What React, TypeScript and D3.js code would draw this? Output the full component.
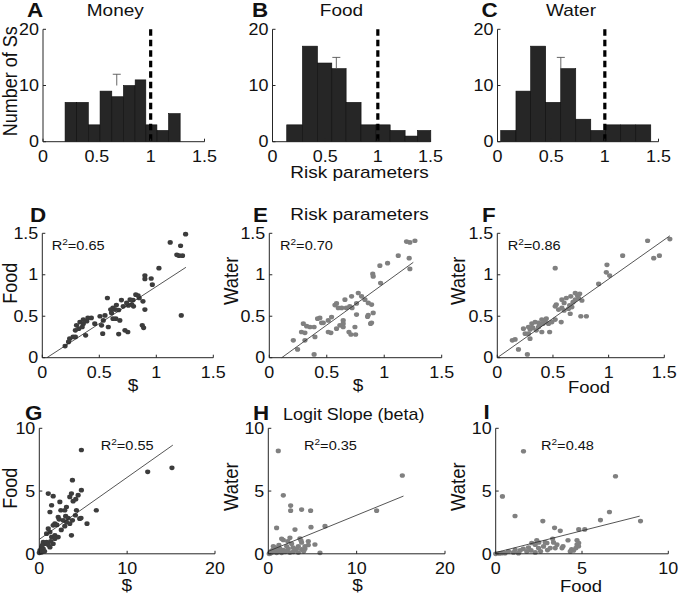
import React from 'react';
import * as d3 from 'd3';

// ---------------- DATA ----------------
// Histograms of risk parameters (bin edges and counts)
const moneyEdges = [0.205, 0.313, 0.421, 0.53, 0.639, 0.747, 0.856, 0.955, 1.058, 1.166, 1.274];
const moneyCounts = [7, 7, 3, 9, 8, 10, 11, 3, 2, 5];
const foodEdges = [0.135, 0.284, 0.427, 0.563, 0.699, 0.841, 0.981, 1.117, 1.259, 1.376, 1.503];
const foodCounts = [3, 17, 14, 13, 7, 3, 3, 2, 1, 2];
const waterEdges = [0.03, 0.172, 0.309, 0.449, 0.589, 0.729, 0.869, 1.008, 1.148, 1.288, 1.428];
const waterCounts = [2, 9, 17, 7, 13, 4, 2, 3, 3, 3];
// error markers [x, top, bottom]
const moneyErr = [0.685, 12, 10];
const foodErr = [0.606, 15, 13];
const waterErr = [0.59, 15, 13];
const histTicksX = [0, 0.5, 1, 1.5];
const histTicksY = [0, 10, 20];
const neutralRisk = 1;

// Scatter: risk parameters
const riskMoneyFood: number[][] = [
  [1.257, 1.49], [1.122, 1.39], [1.213, 1.35], [1.18, 1.24], [1.2, 1.23], [1.23, 1.23], [1.023, 1.08],
  [0.9, 0.99], [0.9, 0.95], [0.955, 0.955], [0.965, 0.88], [1.219, 0.51], [0.571, 0.72], [0.84, 0.75],
  [0.85, 0.72], [0.82, 0.76], [0.796, 0.695], [0.883, 0.68], [0.9, 0.58], [0.877, 0.39], [0.889, 0.36],
  [0.74, 0.66], [0.755, 0.63], [0.77, 0.7], [0.785, 0.64], [0.8, 0.62], [0.694, 0.695], [0.65, 0.635],
  [0.67, 0.575], [0.64, 0.58], [0.62, 0.6], [0.607, 0.54], [0.645, 0.47], [0.68, 0.45], [0.62, 0.47],
  [0.725, 0.33], [0.75, 0.31], [0.67, 0.285], [0.579, 0.37], [0.506, 0.5], [0.535, 0.45], [0.52, 0.39],
  [0.53, 0.29], [0.46, 0.41], [0.55, 0.51], [0.33, 0.43], [0.36, 0.46], [0.39, 0.44], [0.4, 0.48],
  [0.43, 0.48], [0.3, 0.39], [0.32, 0.35], [0.35, 0.37], [0.29, 0.33], [0.29, 0.25], [0.38, 0.27],
  [0.24, 0.23], [0.27, 0.25], [0.23, 0.19], [0.2, 0.14], [0.71, 0.62], [0.6, 0.58], [0.36, 0.41],
];
const riskMoneyWater: number[][] = [
  [1.267, 1.41], [1.223, 1.39], [1.194, 1.4], [1.122, 1.23], [1.217, 1.2], [1.223, 1.07], [1.029, 1.14],
  [0.962, 1.11], [0.9, 1.01], [0.904, 0.98], [0.968, 0.9], [0.774, 0.78], [0.716, 0.74], [0.803, 0.74],
  [0.759, 0.655], [0.658, 0.7], [0.585, 0.655], [0.571, 0.635], [0.6, 0.6], [0.63, 0.6], [0.67, 0.6],
  [0.832, 0.7], [0.861, 0.66], [0.89, 0.64], [0.904, 0.54], [0.861, 0.515], [0.855, 0.495], [0.89, 0.42],
  [0.881, 0.41], [0.759, 0.52], [0.745, 0.37], [0.693, 0.31], [0.71, 0.28], [0.751, 0.28], [0.643, 0.45],
  [0.643, 0.41], [0.614, 0.39], [0.585, 0.35], [0.643, 0.37], [0.513, 0.31], [0.536, 0.3], [0.513, 0.45],
  [0.542, 0.49], [0.455, 0.42], [0.47, 0.42], [0.42, 0.47], [0.44, 0.48], [0.296, 0.41], [0.325, 0.38],
  [0.354, 0.37], [0.39, 0.37], [0.28, 0.31], [0.31, 0.3], [0.397, 0.25], [0.31, 0.21], [0.209, 0.21],
  [0.246, 0.1], [0.39, 0.04], [0.7, 0.62], [0.72, 0.6],
];
const riskFoodWater: number[][] = [
  [1.55, 1.43], [1.35, 1.41], [1.456, 1.23], [1.405, 1.2], [1.126, 1.23], [0.985, 1.12], [0.979, 1.03],
  [1.009, 0.99], [0.91, 0.89], [0.52, 1.08], [0.75, 0.5], [0.8, 0.5], [0.72, 0.75], [0.74, 0.77],
  [0.73, 0.72], [0.76, 0.69], [0.7, 0.7], [0.65, 0.63], [0.68, 0.67], [0.67, 0.61], [0.64, 0.59],
  [0.58, 0.7], [0.6, 0.66], [0.58, 0.6], [0.6, 0.57], [0.655, 0.53], [0.52, 0.62], [0.53, 0.64],
  [0.55, 0.58], [0.574, 0.43], [0.52, 0.46], [0.49, 0.43], [0.46, 0.41], [0.43, 0.43], [0.44, 0.47],
  [0.4, 0.46], [0.41, 0.41], [0.38, 0.39], [0.37, 0.37], [0.37, 0.42], [0.34, 0.43], [0.31, 0.41],
  [0.32, 0.36], [0.35, 0.33], [0.4, 0.31], [0.47, 0.31], [0.28, 0.37], [0.28, 0.29], [0.295, 0.34],
  [0.25, 0.29], [0.235, 0.35], [0.294, 0.23], [0.16, 0.22], [0.135, 0.21], [0.19, 0.1], [0.27, 0.04],
  [0.62, 0.72], [0.66, 0.74], [0.7, 0.78],
];
// Scatter: logit slope (beta)
const betaMoneyFood: number[][] = [
  [4.79, 8.27], [12.34, 6.53], [15.1, 6.85], [3.77, 5.87], [1.02, 4.8], [1.58, 4.59], [3.66, 4.8],
  [3.47, 4.53], [4.79, 5.07], [4.42, 4.67], [4.15, 4.35], [3.85, 4.19], [2.34, 4.13], [1.4, 3.87],
  [1.21, 3.33], [3.09, 3.73], [2.9, 3.47], [2.45, 3.47], [4.23, 3.47], [4.11, 3.07], [6.49, 3.47],
  [5.43, 2.4], [4.6, 2.8], [4.75, 2.85], [2.72, 2.67], [3.09, 2.53], [2.15, 2.93], [2.26, 2.75],
  [1.77, 2.4], [1.58, 2.27], [3.77, 2.67], [3.28, 2.85], [3.47, 2.4], [1.02, 2.0], [1.21, 1.73],
  [0.83, 1.6], [1.4, 1.33], [1.77, 1.47], [2.15, 1.33], [3.66, 1.47], [0.45, 0.93], [0.64, 0.8],
  [0.83, 0.93], [0.26, 0.53], [0.45, 0.4], [0.08, 0.27], [0.26, 0.13], [1.02, 0.73], [1.21, 0.53],
  [1.58, 0.8], [1.77, 1.2], [0, 0.08], [2.9, 2.2], [2.5, 1.9], [0.6, 0.2], [0.35, 0.7], [1.3, 1.0],
  [2.0, 2.3], [3.0, 3.0],
];
const betaMoneyWater: number[][] = [
  [1.13, 8.2], [1.7, 4.66], [15.17, 6.24], [12.26, 3.44], [2.53, 3.84], [2.53, 3.44], [3.77, 3.52],
  [4.79, 3.44], [0.94, 2.06], [3.02, 1.93], [4.83, 2.12], [6.42, 2.2], [2.45, 1.27], [1.51, 1.19],
  [1.7, 1.1], [3.58, 1.22], [3.7, 1.06], [4.53, 1.0], [5.28, 0.74], [5.85, 0.08], [3.4, 0.6], [3.2, 0.4],
  [3.77, 0.35], [2.64, 0.8], [2.08, 0.6], [2.26, 0.4], [1.32, 0.4], [1.13, 0.16], [0.75, 0.16],
  [0.38, 0.08], [0.19, 0.03], [0.57, 0.6], [3.77, 0.9], [4.15, 0.6], [1.89, 0.16], [2.45, 0.1],
  [2.83, 0.16], [3.02, 0.3], [4.15, 0.4], [4.53, 0.7], [0.94, 0.08], [1.51, 0.08], [0.5, 0.3],
  [1.0, 0.4], [2.0, 0.2], [2.8, 0.5], [0.3, 0.2], [1.7, 0.3], [3.4, 0.1], [0.8, 0.5], [4.0, 0.2],
  [0.1, 0.0], [2.2, 1.0], [1.2, 0.7],
];
const betaFoodWater: number[][] = [
  [1.61, 8.17], [0.39, 4.57], [1.12, 3.01], [6.94, 6.18], [6.59, 3.33], [6.07, 2.69], [8.39, 2.61],
  [2.73, 2.61], [3.41, 2.07], [3.74, 1.83], [4.81, 1.94], [5.16, 1.94], [2.38, 1.08], [2.87, 0.91],
  [2.97, 0.86], [3.35, 0.91], [3.55, 0.73], [3.45, 0.46], [4.19, 1.08], [4.71, 1.08], [4.81, 0.86],
  [4.71, 0.73], [3.84, 0.46], [4.32, 0.19], [4.51, 0.27], [2.09, 0.86], [2.29, 0.73], [2.48, 0.46],
  [2.77, 0.59], [3.16, 0.46], [1.8, 0.19], [2.05, 0.27], [2.29, 0.11], [1.42, 0.27], [1.13, 0.32],
  [0.74, 0.19], [0.54, 0.05], [0.35, 0.05], [0.0, 0.0], [1.32, 0.05], [1.03, 0.11], [4.65, 0.46],
  [4.8, 0.6], [1.6, 0.4], [2.6, 0.2], [3.0, 0.3], [3.9, 0.6], [0.2, 0.03], [1.9, 0.5], [2.5, 0.9],
  [3.3, 1.2], [4.4, 0.35],
];
// Regression line endpoints
const fitD = [[0.04, 0], [1.26, 1.09]];
const fitE = [[0.108, 0], [1.253, 1.15]];
const fitF = [[0, 0], [1.55, 1.47]];
const fitG = [[0, 1.15], [15.2, 8.66]];
const fitH = [[0, 0.2], [15.3, 4.6]];
const fitI = [[0, 0.1], [8.34, 3.0]];
const r2Labels = ['0.65', '0.70', '0.86', '0.55', '0.35', '0.48'];
const riskTicks = [0, 0.5, 1, 1.5];
const betaTicksY = [0, 5, 10];
const betaTicksMoney = [0, 10, 20];
const betaTicksFood = [0, 5, 10];

// ---------------- STYLE ----------------
const SX = 1.12;
const FONT = "'Liberation Sans', Arial, Helvetica, sans-serif";
const AXIS = '#262626';
const TXT = '#111';

type TP = { x: number; y: number; size: number; anchor?: string; weight?: number | string; rot?: boolean; children: React.ReactNode };
function Txt({ x, y, size, anchor = 'middle', weight = 400, rot = false, children }: TP) {
  const tr = rot ? `translate(${x},${y}) scale(${SX},1) rotate(-90)` : `translate(${x},${y}) scale(${SX},1)`;
  return (
    <text transform={tr} textAnchor={anchor as any} fontSize={size} fontWeight={weight} fontFamily={FONT} fill={TXT}>
      {children}
    </text>
  );
}

function Axes({ xs, ys, xt, yt, xFmt, yFmt }: any) {
  const [x0, x1] = [xs(xt[0]), xs(xt[xt.length - 1])];
  const [yb, yTop] = [ys(yt[0]), ys(yt[yt.length - 1])];
  return (
    <g>
      <line x1={x0} x2={x1} y1={yb} y2={yb} stroke={AXIS} strokeWidth={1} />
      <line x1={x0} x2={x0} y1={yb} y2={yTop} stroke={AXIS} strokeWidth={1} />
      {xt.map((t: number) => (
        <g key={'x' + t}>
          <line x1={xs(t)} x2={xs(t)} y1={yb} y2={yb - 3} stroke={AXIS} strokeWidth={1} />
          <Txt x={xs(t)} y={yb + 20} size={16}>{xFmt(t)}</Txt>
        </g>
      ))}
      {yt.map((t: number) => (
        <g key={'y' + t}>
          <line x1={x0} x2={x0 + 3} y1={ys(t)} y2={ys(t)} stroke={AXIS} strokeWidth={1} />
          <Txt x={x0 - 4} y={ys(t) + 5.7} size={16} anchor="end">{yFmt(t)}</Txt>
        </g>
      ))}
    </g>
  );
}

const fmt = (t: number) => String(t);

function Hist({ edges, counts, err, xr }: any) {
  const xs = d3.scaleLinear().domain([0, 1.5]).range(xr);
  const ys = d3.scaleLinear().domain([0, 20]).range([141.7, 29.3]);
  return (
    <g>
      {counts.map((c: number, i: number) => (
        <rect key={i} x={xs(edges[i])} width={xs(edges[i + 1]) - xs(edges[i])} y={ys(c)} height={ys(0) - ys(c)}
          fill="#262626" stroke="#0d0d0d" strokeWidth={0.6} />
      ))}
      <line x1={xs(neutralRisk)} x2={xs(neutralRisk)} y1={ys(20)} y2={ys(0)} stroke="#000" strokeWidth={3.2} strokeDasharray="6.5,4" />
      <line x1={xs(err[0])} x2={xs(err[0])} y1={ys(err[1])} y2={ys(err[2])} stroke="#555" strokeWidth={0.9} />
      <line x1={xs(err[0]) - 4} x2={xs(err[0]) + 4} y1={ys(err[1])} y2={ys(err[1])} stroke="#555" strokeWidth={0.9} />
      <Axes xs={xs} ys={ys} xt={histTicksX} yt={histTicksY} xFmt={fmt} yFmt={fmt} />
    </g>
  );
}

function Scatter({ pts, fit, xr, yr, xd, yd, xt, yt, color, r2, r2x, r2y }: any) {
  const xs = d3.scaleLinear().domain(xd).range(xr);
  const ys = d3.scaleLinear().domain(yd).range(yr);
  const line = d3.line<number[]>().x((d) => xs(d[0])).y((d) => ys(d[1]));
  return (
    <g>
      {pts.map((p: number[], i: number) => (
        <ellipse key={i} cx={xs(p[0])} cy={ys(p[1])} rx={2.6} ry={2.35} fill={color} />
      ))}
      <path d={line(fit) || ''} stroke="#2a2a2a" strokeWidth={0.8} fill="none" />
      <Axes xs={xs} ys={ys} xt={xt} yt={yt} xFmt={fmt} yFmt={fmt} />
      <text transform={`translate(${r2x},${r2y}) scale(${SX},1)`} fontSize={13} fontFamily={FONT} fill={TXT}>
        R<tspan dy={-5} fontSize={9}>2</tspan><tspan dy={5}>={r2}</tspan>
      </text>
    </g>
  );
}

const DARK = '#3c3c3c';
const GREY = '#808080';

export default function App() {
  return (
    <svg width={682} height={595} style={{ position: 'absolute', left: 0, top: 0, background: '#fff' }}>
      {/* Top row histograms */}
      <Hist edges={moneyEdges} counts={moneyCounts} err={moneyErr} xr={[43, 204.5]} />
      <Hist edges={foodEdges} counts={foodCounts} err={foodErr} xr={[272.5, 430.5]} />
      <Hist edges={waterEdges} counts={waterCounts} err={waterErr} xr={[497.5, 658.5]} />
      <Txt x={27} y={17.3} size={20} weight="bold" anchor="start">A</Txt>
      <Txt x={115.3} y={16} size={17}>Money</Txt>
      <Txt x={252} y={17.3} size={20} weight="bold" anchor="start">B</Txt>
      <Txt x={341.5} y={16} size={17}>Food</Txt>
      <Txt x={481.5} y={17.3} size={20} weight="bold" anchor="start">C</Txt>
      <Txt x={571} y={16} size={17}>Water</Txt>
      <Txt x={17} y={81.3} size={18} rot>Number of Ss</Txt>
      <Txt x={359.5} y={178} size={17}>Risk parameters</Txt>

      {/* Middle row: risk parameters */}
      <Scatter pts={riskMoneyFood} fit={fitD} xr={[42.3, 213.3]} yr={[357.7, 233.3]} xd={[0, 1.5]} yd={[0, 1.5]}
        xt={riskTicks} yt={riskTicks} color={DARK} r2={r2Labels[0]} r2x={51.7} r2y={250} />
      <Scatter pts={riskMoneyWater} fit={fitE} xr={[269.3, 441.7]} yr={[357.7, 233.3]} xd={[0, 1.5]} yd={[0, 1.5]}
        xt={riskTicks} yt={riskTicks} color={GREY} r2={r2Labels[1]} r2x={280} r2y={250} />
      <Scatter pts={riskFoodWater} fit={fitF} xr={[497.3, 664.3]} yr={[357.7, 233.3]} xd={[0, 1.5]} yd={[0, 1.5]}
        xt={riskTicks} yt={riskTicks} color={GREY} r2={r2Labels[2]} r2x={507.7} r2y={250} />
      <Txt x={30} y={221.7} size={20} weight="bold" anchor="start">D</Txt>
      <Txt x={253} y={221.7} size={20} weight="bold" anchor="start">E</Txt>
      <Txt x={359.5} y={220} size={17}>Risk parameters</Txt>
      <Txt x={482} y={221.7} size={20} weight="bold" anchor="start">F</Txt>
      <Txt x={17} y={283.3} size={18} rot>Food</Txt>
      <Txt x={238} y={280.8} size={18.5} rot>Water</Txt>
      <Txt x={465} y={280.8} size={18.5} rot>Water</Txt>
      <Txt x={133} y={391} size={17}>$</Txt>
      <Txt x={358} y={391} size={17}>$</Txt>
      <Txt x={589} y={392.5} size={16.5}>Food</Txt>

      {/* Bottom row: logit slope */}
      <Scatter pts={betaMoneyFood} fit={fitG} xr={[39.3, 215]} yr={[553.8, 428.3]} xd={[0, 20]} yd={[0, 10]}
        xt={betaTicksMoney} yt={betaTicksY} color={DARK} r2={r2Labels[3]} r2x={100.7} r2y={450} />
      <Scatter pts={betaMoneyWater} fit={fitH} xr={[268.3, 445]} yr={[553.8, 428.3]} xd={[0, 20]} yd={[0, 10]}
        xt={betaTicksMoney} yt={betaTicksY} color={GREY} r2={r2Labels[4]} r2x={304} r2y={450} />
      <Scatter pts={betaFoodWater} fit={fitI} xr={[495.7, 668.3]} yr={[553.8, 428.3]} xd={[0, 10]} yd={[0, 10]}
        xt={betaTicksFood} yt={betaTicksY} color={GREY} r2={r2Labels[5]} r2x={541} r2y={450} />
      <Txt x={25} y={419.5} size={20} weight="bold" anchor="start">G</Txt>
      <Txt x={253} y={419.5} size={20} weight="bold" anchor="start">H</Txt>
      <Txt x={353.7} y={419.5} size={16}>Logit Slope (beta)</Txt>
      <Txt x={483.5} y={419} size={20} weight="bold" anchor="start">I</Txt>
      <Txt x={17} y={488.3} size={18} rot>Food</Txt>
      <Txt x={238} y={486.7} size={18.5} rot>Water</Txt>
      <Txt x={465} y={486.7} size={18.5} rot>Water</Txt>
      <Txt x={126.7} y={591} size={17}>$</Txt>
      <Txt x={357.5} y={591} size={17}>$</Txt>
      <Txt x={581} y={591.7} size={16.5}>Food</Txt>
    </svg>
  );
}
